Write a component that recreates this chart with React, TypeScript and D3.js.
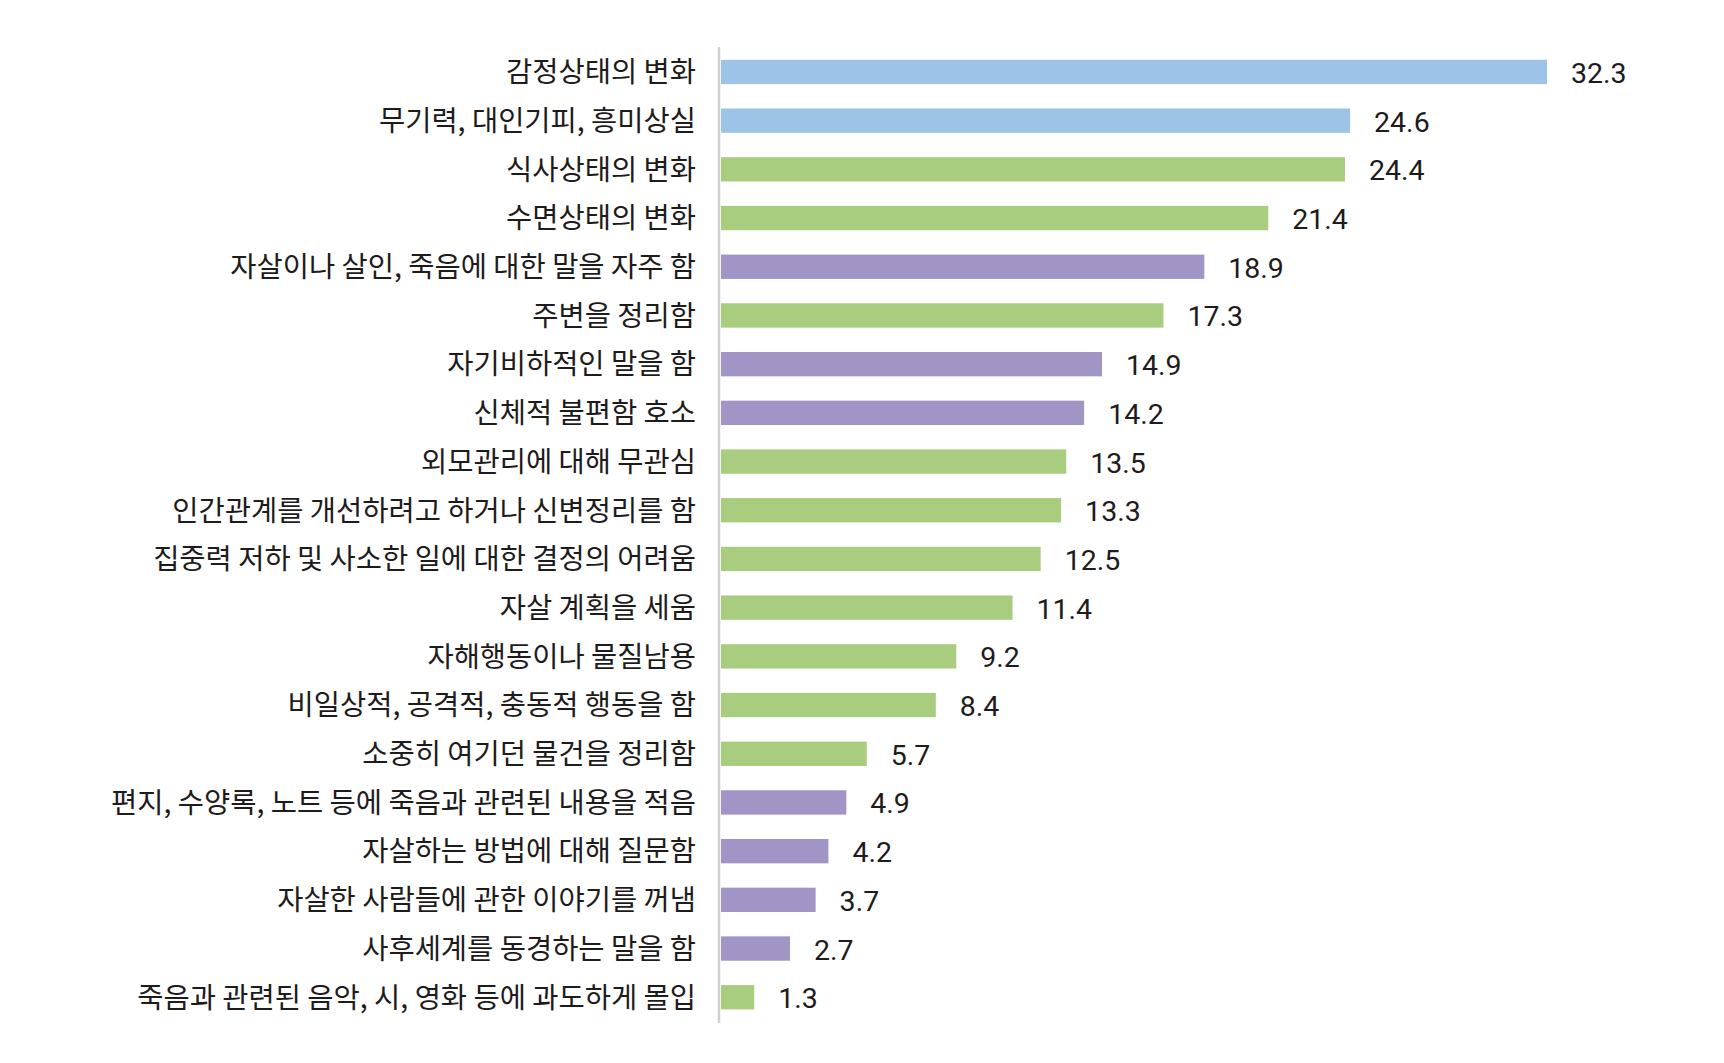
import React from "react";
import * as d3 from "d3";

const categories = [
  "감정상태의 변화",
  "무기력, 대인기피, 흥미상실",
  "식사상태의 변화",
  "수면상태의 변화",
  "자살이나 살인, 죽음에 대한 말을 자주 함",
  "주변을 정리함",
  "자기비하적인 말을 함",
  "신체적 불편함 호소",
  "외모관리에 대해 무관심",
  "인간관계를 개선하려고 하거나 신변정리를 함",
  "집중력 저하 및 사소한 일에 대한 결정의 어려움",
  "자살 계획을 세움",
  "자해행동이나 물질남용",
  "비일상적, 공격적, 충동적 행동을 함",
  "소중히 여기던 물건을 정리함",
  "편지, 수양록, 노트 등에 죽음과 관련된 내용을 적음",
  "자살하는 방법에 대해 질문함",
  "자살한 사람들에 관한 이야기를 꺼냄",
  "사후세계를 동경하는 말을 함",
  "죽음과 관련된 음악, 시, 영화 등에 과도하게 몰입",
];

const values = [
  32.3, 24.6, 24.4, 21.4, 18.9, 17.3, 14.9, 14.2, 13.5, 13.3, 12.5, 11.4, 9.2,
  8.4, 5.7, 4.9, 4.2, 3.7, 2.7, 1.3,
];

const groups = [
  "blue", "blue", "green", "green", "purple", "green", "purple", "purple",
  "green", "green", "green", "green", "green", "green", "green", "purple",
  "purple", "purple", "purple", "green",
];

const groupColors: Record<string, string> = {
  blue: "#9dc3e6",
  green: "#a8cd7e",
  purple: "#a394c6",
};

export default function App() {
  const W = 1724;
  const H = 1063;
  const axisX = 719;
  const x = d3.scaleLinear().domain([0, 32.3]).range([721, 1547]);
  const y = d3
    .scaleBand<string>()
    .domain(categories)
    .range([47.6, 1021.6])
    .paddingInner(0.5)
    .paddingOuter(0.25);
  const bw = y.bandwidth();

  return (
    <svg
      width={W}
      height={H}
      style={{ position: "absolute", left: 0, top: 0, background: "#fff" }}
    >
      <rect x={0} y={0} width={W} height={H} fill="#fff" />
      {categories.map((c, i) => {
        const yy = y(c)!;
        const cy = yy + bw / 2;
        return (
          <g key={c}>
            <rect
              x={x(0)}
              y={yy}
              width={x(values[i]) - x(0)}
              height={bw}
              fill={groupColors[groups[i]]}
            />
            <text
              x={axisX - 23}
              y={cy}
              dy="0.36em"
              textAnchor="end"
              fontFamily="'Noto Sans CJK KR', 'Noto Sans', sans-serif"
              fontSize={28.5}
              fill="#1e1b1c"
            >
              {c}
            </text>
            <text
              x={x(values[i]) + 24}
              y={cy + 11}
              fontFamily="Roboto, 'Liberation Sans', sans-serif"
              fontWeight={400}
              fontSize={28.5}
              fill="#1e1b1c"
            >
              {values[i].toFixed(1)}
            </text>
          </g>
        );
      })}
      <line
        x1={axisX}
        x2={axisX}
        y1={47}
        y2={1023}
        stroke="#d0d0d0"
        strokeWidth={2.5}
      />
    </svg>
  );
}
